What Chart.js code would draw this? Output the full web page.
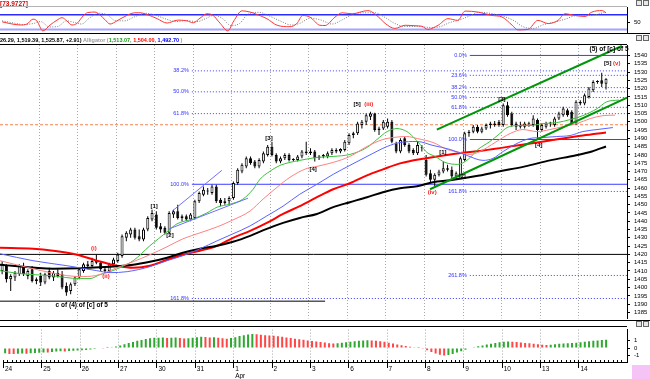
<!DOCTYPE html>
<html><head><meta charset="utf-8">
<script src="https://cdn.jsdelivr.net/npm/chart.js@4/dist/chart.umd.min.js"></script>
<style>
html,body{margin:0;padding:0;background:#fff;width:650px;height:379px;overflow:hidden;}
body{position:relative;}
canvas{position:absolute;left:0;}
.ln{position:absolute;left:0;height:1px;}
.ic{position:absolute;width:4px;height:4px;border:1px solid #666;background:#e8e8e8;}
</style></head><body>
<canvas id="cTop" width="650" height="41" style="top:0px"></canvas>
<canvas id="cMain" width="650" height="292" style="top:34px"></canvas>
<canvas id="cBot" width="650" height="57" style="top:322px"></canvas>
<div class="ln" style="top:6px;width:627px;background:#b4b4b4"></div>
<div class="ln" style="top:33px;width:650px;background:#000"></div>
<div class="ln" style="top:44px;width:627px;background:#000"></div>
<div class="ln" style="top:320px;width:650px;background:#000"></div>
<div class="ln" style="top:326px;width:627px;background:#000"></div>
<div class="ic" style="left:636px;top:0px"></div><div class="ic" style="left:643px;top:0px"></div>
<div class="ic" style="left:636px;top:35px"></div><div class="ic" style="left:643px;top:35px"></div>
<div class="ic" style="left:636px;top:321px"></div><div class="ic" style="left:643px;top:321px"></div>
<div style="position:absolute;left:632px;top:365px;width:18px;height:14px;background:#f5c3f5"></div>
<script>
// ---------------- DATA ----------------
const dayLabels = ["24","25","26","27","30","31","1","2","3","6","7","8","9","10","13","14"];
const monthLabel = "Apr";              // shown under the "1"
const barsPerDay = 9;

const opens = [
1410,1413,1405,1406,1408,1413,1407,1411,1404,
1407,1403,1410,1406,1409,1408,1401,1398,1402,
1406,1410,1414,1413,1416,1415,1411,1410,1414,
1416,1419,1430,1432,1435,1431,1429,1435,1441,
1444,1437,1436,1433,1444,1446,1442,1443,1441,
1442,1452,1456,1458,1457,1461,1453,1451,1452,
1454,1463,1470,1473,1478,1476,1473,1476,1480,
1485,1480,1476,1478,1480,1477,1477,1479,1482,
1481,1482,1478,1479,1479,1481,1483,1482,1483,
1487,1492,1493,1498,1500,1503,1505,1495,1496,
1497,1500,1487,1482,1490,1486,1483,1481,1484,
1477,1469,1465,1468,1470,1472,1471,1467,1468,
1477,1493,1494,1497,1494,1496,1498,1499,1500,
1498,1510,1505,1499,1498,1497,1499,1498,1501,
1495,1497,1499,1498,1502,1504,1507,1506,1499,
1512,1511,1515,1519,1524,1525,1522.96];
const highs = [
1416,1414,1408,1410,1414,1415,1411,1413,1406,
1409,1409,1412,1410,1411,1410,1403,1403,1407,
1412,1415,1416,1418,1420,1416,1413,1415,1418,
1421,1432,1434,1436,1436,1435,1436,1443,1447,
1446,1439,1437,1446,1447,1450,1444,1444,1445,
1453,1458,1461,1460,1462,1462,1454,1454,1455,
1464,1472,1475,1479,1479,1477,1478,1482,1486,
1488,1481,1479,1481,1481,1478,1480,1483,1488,
1484,1483,1480,1480.5,1482,1484,1484,1484,1489,
1493,1494,1500,1501,1505,1506,1505.5,1497,1501,
1502,1501,1488,1490,1491,1487,1484,1488,1486,
1480,1471,1469,1471,1476,1474,1473,1470,1479,
1494,1495,1498,1498,1497,1499,1500,1500.5,1501,
1511,1512,1506,1500,1500,1500,1500,1504,1502,
1499,1500,1500,1503,1506,1509,1508,1507,1513,
1513,1517,1521,1525,1525,1529.5,1526.29];
const lows = [
1408,1403,1398,1404,1407,1407,1405,1403,1402,
1401,1402,1405,1404,1406,1399,1395,1396,1401,
1405,1409,1411,1412,1414,1410,1409,1409,1413,
1415,1418,1428,1430,1429,1428,1428,1434,1440,
1435,1433,1432,1432,1442,1441,1440,1440,1440,
1441,1451,1455,1456,1456,1451,1449,1450,1450,
1453,1462,1469,1472,1474,1472,1472,1475,1479,
1479,1475,1475,1477,1476,1476,1476,1478,1480,
1480,1476,1477,1478,1478,1480,1481,1481,1482,
1486,1490,1492,1496,1498,1501,1494,1492,1495,
1496,1487,1481,1481,1485,1481,1480,1480,1482,
1467,1463,1461,1467,1469,1470,1466,1465,1467,
1476,1491,1493,1493,1493,1495,1496,1497,1497,
1497,1503,1497,1495,1496,1496,1497,1497,1489,
1494,1496,1497,1497,1501,1503,1503,1498,1498,
1510,1510,1514,1518,1523,1521,1519.39];
const closes = [
1414,1405,1407,1409,1413,1408,1410,1404,1405,
1403,1408,1406,1409,1407,1400,1397,1402,1406,
1411,1414,1413,1416,1415,1411,1410,1414,1417,
1420,1431,1433,1435,1430,1429,1435,1442,1445,
1436,1435,1433,1445,1446,1442,1443,1441,1444,
1452,1457,1459,1458,1461,1452,1451,1452,1454,
1463,1471,1474,1478,1475,1473,1477,1481,1485,
1480,1476,1478,1480,1477,1477.5,1479,1482,1481,
1482,1478,1479,1480,1481,1483,1482,1483.5,1488,
1492,1493,1499,1500,1504,1505,1495,1496,1500,
1500,1488,1482,1489,1486,1482,1481,1486,1484.5,
1468,1465,1468,1470,1472,1471,1467,1469,1478,
1493,1494,1497,1494,1496,1498,1499,1498,1498,
1510,1504,1498,1497,1497,1499,1498.5,1502,1495,
1498,1499,1499.5,1502,1505,1508,1504,1499,1512,
1511,1516,1520,1524,1524.5,1522.96,1525.87];

// moving averages: [bar index, value]
const blackMA = [[-0.5,1413.8],[11.9,1411.4],[25.2,1412.6],[30.6,1413.8],[34.5,1415.6],[38.5,1418.0],[42.2,1421.0],[46.2,1423.4],[50.2,1425.2],[53.9,1427.6],[57.9,1431.2],[61.8,1435.4],[65.6,1439.0],[69.5,1442.0],[73.5,1444.4],[77.3,1448.5],[81.2,1451.5],[85.2,1454.5],[88.9,1457.5],[92.9,1459.9],[96.9,1461.1],[100.6,1463.5],[104.6,1464.7],[110.4,1467.1],[116.2,1470.1],[122.1,1473.1],[127.9,1476.7],[133.8,1479.7],[137.7,1482.1],[141,1485.1]];
const redMA = [[-0.5,1424.0],[7.2,1423.4],[11.9,1422.2],[17.5,1419.8],[22.1,1416.2],[26.8,1413.2],[30.6,1412.0],[34.5,1413.2],[38.5,1416.8],[42.2,1419.8],[46.2,1422.2],[50.2,1425.2],[53.9,1430.0],[57.9,1434.2],[61.8,1439.0],[65.6,1444.4],[69.5,1449.1],[73.5,1454.5],[77.3,1459.3],[81.2,1462.9],[85.2,1467.7],[88.9,1471.3],[92.9,1474.9],[98.7,1477.9],[104.6,1480.3],[112.3,1482.7],[120.2,1485.7],[127.9,1488.7],[135.6,1491.7],[141,1493.5]];
const lipsLine = [[-0.5,1410.2],[4.2,1408.4],[11.2,1407.2],[18.2,1405.4],[20.5,1405.4],[22.8,1407.8],[25.2,1409.6],[27.5,1412.0],[30.6,1416.2],[34.5,1425.2],[38.5,1433.6],[40.8,1438.4],[44.6,1441.4],[47.8,1445.0],[50.2,1448.5],[53.2,1450.3],[56.2,1453.3],[58.6,1459.3],[60.2,1465.3],[62.5,1470.1],[64.9,1473.7],[67.2,1475.5],[69.5,1476.7],[73.5,1478.5],[77.3,1479.1],[81.2,1480.3],[85.2,1484.5],[87.5,1489.3],[89.9,1494.1],[92.2,1495.9],[94.5,1494.1],[95.9,1491.1],[97.6,1486.3],[99.2,1481.5],[101.1,1479.1],[103.4,1475.5],[106.4,1474.3],[108.8,1477.3],[111.1,1483.3],[113.9,1488.1],[116.2,1492.9],[117.9,1496.5],[120.2,1497.7],[123.2,1497.7],[126.3,1498.9],[129.5,1499.5],[132.6,1501.3],[135.6,1503.7],[138.9,1507.9],[141.2,1512.1],[144,1513.1]];
const teethLine = [[-0.5,1416.2],[7.2,1411.4],[15.1,1407.2],[18.9,1406.6],[22.8,1407.8],[26.8,1412.0],[30.6,1415.6],[34.5,1419.8],[38.5,1424.6],[42.2,1429.4],[46.2,1433.0],[50.2,1436.6],[53.9,1440.8],[57.9,1446.2],[60.9,1453.3],[64.2,1460.5],[67.2,1466.5],[71.2,1471.9],[73.5,1473.1],[77.3,1475.5],[81.2,1479.1],[85.2,1485.1],[88.9,1489.3],[91.3,1490.5],[94.5,1491.1],[96.9,1489.9],[100.6,1487.5],[103.9,1483.3],[106.9,1481.5],[109.2,1480.3],[111.6,1482.1],[115.1,1487.5],[118.6,1492.9],[121.6,1495.3],[124.9,1494.1],[127.9,1495.3],[131,1497.1],[134.2,1498.9],[137.3,1501.9],[140.3,1503.7],[143.1,1504.0]];
const jawLine = [[-0.5,1420.4],[7.2,1416.2],[15.1,1413.2],[22.1,1410.2],[25.2,1409.0],[29.2,1409.6],[34.5,1412.6],[38.5,1416.2],[42.2,1419.2],[46.2,1423.4],[50.2,1428.2],[53.9,1432.4],[57.9,1437.2],[61.8,1443.2],[65.6,1449.1],[69.5,1456.3],[73.5,1462.3],[77.3,1468.3],[81.2,1473.7],[85.2,1479.1],[89.9,1485.1],[92.9,1487.5],[96.9,1488.1],[100.6,1485.7],[104.6,1483.3],[108.5,1479.7],[112.3,1476.7],[114.6,1477.9],[117,1482.1],[120.2,1486.9],[123.2,1489.9],[126.3,1490.5],[129.5,1491.1],[132.6,1491.7],[135.6,1494.1],[138.9,1495.3],[142.6,1496.5]];

// trend lines [bar, value] end points
const blueChanUpper = [[39.7,1446.1],[51.3,1470.7]];
const blueChanLower = [[39.0,1435.4],[57.4,1453.9]];
const greenChanUpper = [[101.5,1495.3],[144.7,1545.7]];
const greenChanLower = [[99.9,1459.3],[145.9,1514.5]];

// horizontal levels
const supportLevel = 1420;
const lowLevel = 1391.8, lowLevelEndBar = 75.4;
const orangeLevel = 1498.2;
const fibLeftPct = [38.2, 50.0, 61.8, 100.0, 161.8];
const fibLeftVal = [1530.7, 1518.05, 1504.9, 1462.3, 1393.4];
const fibLeftStartBar = 44.3;
const fibRightPct = [0.0, 23.6, 38.2, 50.0, 61.8, 100.0, 161.8, 261.8];
const fibRightVal = [1540.0, 1528.0, 1520.6, 1514.65, 1508.7, 1489.3, 1457.97, 1407.3];
const fibRightStartBar = 109.2;

// stochastic (top pane): [bar, value]
const stochK = [[0,51],[1.8,44],[4.2,38],[5.8,42],[7.2,62],[8.1,55],[9.5,14],[11.2,38],[12.8,58],[14,68],[15.1,55],[16.3,38],[17.5,45],[18.9,75],[20,89],[21.7,91],[22.8,80],[24,60],[25.2,42],[26.8,55],[29.2,78],[31,88],[32.2,88],[34,80],[36.2,64],[38.5,46],[41,58],[43.2,55],[44.6,47],[46.2,66],[47.8,84],[49.2,78],[50.9,45],[52.7,14],[54.1,55],[56,96],[57.9,91],[59.7,80],[61.8,64],[64.2,37],[67.2,31],[68.8,44],[70.2,77],[71.9,70],[74.2,37],[75.4,36],[77.7,70],[79.4,88],[81.7,84],[85.4,97],[87.8,72],[89.4,45],[91.7,24],[94.1,37],[96.4,35],[98,33],[99.4,20],[101.8,37],[104.1,64],[106.4,57],[108.1,95],[111.1,91],[114.4,77],[116.7,71],[119.1,37],[120.4,18],[122.8,20],[125.1,57],[127.5,44],[129.8,57],[131.4,84],[133.8,77],[136.1,73],[137.7,91],[140.1,97],[141,88]];
const stochD = [[0,55],[2.5,47],[5,40],[7.5,45],[9,52],[11,30],[13,32],[15,55],[17,48],[18.5,42],[20.5,68],[22.5,86],[24.5,80],[26.5,56],[28.5,55],[31,72],[33.5,86],[35.5,80],[38,64],[40.5,52],[43,56],[45.5,52],[47.5,64],[49.5,78],[51.5,64],[53.5,35],[55.5,45],[57.5,84],[60,90],[62.5,74],[65,54],[67.5,38],[69.5,45],[72,66],[74.5,58],[77,42],[79.5,60],[82,82],[84.5,88],[87,88],[89.5,68],[91.5,46],[94,32],[97,32],[100,28],[102,30],[104.5,48],[107,60],[109,74],[111.5,90],[114.5,84],[117,74],[119.5,56],[121.5,32],[124,24],[126.5,40],[129,50],[131.5,62],[134,76],[136.5,76],[138.5,80],[141,92]];
const stochUpper = 80, stochLower = 20;

// oscillator histogram (bottom pane), one value per bar
const oscValues = [
-0.70,-0.78,-0.80,-0.76,-0.72,-0.75,-0.70,-0.66,-0.62,
-0.58,-0.60,-0.52,-0.46,-0.44,-0.47,-0.40,-0.36,-0.33,
-0.30,-0.24,-0.18,-0.12,-0.06,-0.08,0.02,0.10,0.22,
0.36,0.52,0.68,0.84,0.98,1.10,1.22,1.32,1.40,
1.40,1.42,1.36,1.40,1.45,1.38,1.30,1.34,1.40,
1.46,1.52,1.50,1.44,1.47,1.40,1.32,1.28,1.35,
1.48,1.62,1.74,1.85,1.90,1.86,1.80,1.74,1.70,
1.66,1.60,1.52,1.45,1.36,1.28,1.20,1.12,1.04,
0.96,0.90,0.84,0.76,0.66,0.62,0.66,0.72,0.80,
0.86,0.92,0.98,1.02,1.05,1.02,0.98,0.92,0.86,
0.74,0.62,0.50,0.40,0.30,0.20,0.10,0.02,-0.10,
-0.30,-0.52,-0.72,-0.88,-1.00,-0.94,-0.78,-0.60,-0.42,
-0.22,-0.06,0.10,0.24,0.36,0.48,0.58,0.70,0.80,
0.86,0.90,0.87,0.82,0.76,0.70,0.66,0.60,0.52,
0.46,0.42,0.46,0.52,0.58,0.62,0.66,0.68,0.74,
0.80,0.86,0.92,0.98,1.04,1.08,1.12];

// tick labels
const mainTicks = []; for (let v = 1385; v <= 1540; v += 5) mainTicks.push(v);
const stochTicks = [50];
const oscTicks = [1, 0, -1];

// texts
const stochTitle = "[73.9727]";
const headerParts = [["26.29, 1,519.39, 1,525.87, +2.91)", "#000"], [" Alligator (", "#9a9a9a"], ["1,513.07, ", "#1c9a1c"], ["1,504.00, ", "#ff0000"], ["1,492.70", "#0000ff"], [" )", "#9a9a9a"]];
const RED = "#ff1a1a", BLK = "#000";
const waveLabels = [
 {t:"(i)", i:21.4, v:1423.4, c:RED}, {t:"(ii)", i:24.25, v:1406.6, c:RED},
 {t:"c of (4) of [c] of 5", i:18.6, v:1389.2, c:BLK},
 {t:"[1]", i:35.5, v:1449.1, c:BLK}, {t:"[2]", i:39.2, v:1431.2, c:BLK},
 {t:"[3]", i:62.3, v:1489.9, c:BLK}, {t:"[4]", i:72.6, v:1471.3, c:BLK},
 {t:"[5]", i:82.9, v:1510.3, c:BLK}, {t:"(iii)", i:85.6, v:1510.3, c:RED},
 {t:"[1]", i:102.9, v:1481.5, c:BLK}, {t:"(iv)", i:100.4, v:1457.5, c:RED},
 {t:"[2]", i:107.4, v:1467.1, c:BLK}, {t:"[3]", i:116.7, v:1513.3, c:BLK},
 {t:"[4]", i:125.3, v:1485.7, c:BLK},
 {t:"(5) of [c] of 5", i:141.7, v:1543.6, c:BLK},
 {t:"[5]", i:141.4, v:1535.5, c:BLK}, {t:"(v)", i:143.5, v:1535.5, c:RED}
];

// ---------------- CHARTS ----------------
const FONT = '"Liberation Sans", Arial, sans-serif';
Chart.defaults.font.family = FONT;
Chart.defaults.font.size = 6;
Chart.defaults.color = '#000';
const XMIN = -0.5, XMAX = 145.9;
const dayStarts = dayLabels.map((d, k) => k * barsPerDay - 0.5);

function hiddenX() { return {type:'linear', min:XMIN, max:XMAX, display:false, offset:false}; }
function rightAxis(min, max, vals) {
  return {
    type:'linear', position:'right', min, max,
    afterBuildTicks: s => { s.ticks = vals.map(v => ({value:v})); },
    afterFit: s => { s.width = 23; },
    grid: {drawOnChartArea:false, drawTicks:true, tickLength:3, color:'#000', tickColor:'#000'},
    border: {display:true, color:'#000', width:1},
    ticks: {padding:4, autoSkip:false, color:'#000', font:{size:6}, callback: v => String(v)}
  };
}
const pts = arr => arr.map(p => ({x:p[0], y:p[1]}));
function lineDS(arr, color, width, order, extra) {
  return Object.assign({type:'line', data:pts(arr), borderColor:color, borderWidth:width, pointRadius:0,
    fill:false, tension:0.4, cubicInterpolationMode:'monotone', order}, extra || {});
}
function straight(arr, color, width, order, dash) {
  return {type:'line', data:pts(arr), borderColor:color, borderWidth:width, pointRadius:0, fill:false,
    tension:0, order, borderDash: dash || []};
}
const dayLinePlugin = {
  id:'dayLines',
  beforeDatasetsDraw(chart) {
    const {ctx, chartArea:a, scales:{x}} = chart;
    ctx.save(); ctx.strokeStyle = '#a8a8a8'; ctx.lineWidth = 1; ctx.setLineDash([1,2]);
    dayStarts.forEach((d, k) => {
      if (k === 0) return;
      const px = Math.round(x.getPixelForValue(d)) + 0.5;
      ctx.beginPath(); ctx.moveTo(px, a.top); ctx.lineTo(px, a.bottom); ctx.stroke();
    });
    ctx.restore();
  }
};
const common = {responsive:false, animation:false, events:[],
  plugins:{legend:{display:false}, tooltip:{enabled:false}}};

// ---- top: stochastic ----
new Chart(document.getElementById('cTop'), {
  type:'line',
  data:{datasets:[
    straight([[XMIN,stochUpper],[XMAX,stochUpper]], '#2b2bff', 1.5, 5),
    straight([[XMIN,stochLower],[XMAX,stochLower]], '#a4a4ff', 2, 5),
    lineDS(stochD, '#7a7a7a', 1, 2, {borderDash:[1,1.5]}),
    lineDS(stochK, '#ff3535', 1, 1)
  ]},
  options: Object.assign({}, common, {
    layout:{padding:{top:7, bottom:8, left:0, right:0}},
    scales:{x:hiddenX(), y:rightAxis(5.3, 109.3, stochTicks)}
  }),
  plugins:[{id:'stTitle', afterDraw(chart){ const c = chart.ctx; c.save(); c.font = 'bold 6.5px ' + FONT;
    c.fillStyle = '#e00000'; c.textAlign = 'left'; c.textBaseline = 'alphabetic'; c.fillText(stochTitle, 0, 5.5); c.restore(); }}]
});

// ---- main: candles ----
const wickData = opens.map((o, i) => ({x:i, y:[lows[i], highs[i]]}));
const bodyData = opens.map((o, i) => ({x:i, y:[Math.min(o, closes[i]), Math.max(o, closes[i])]}));
const bodyColors = opens.map((o, i) => closes[i] >= o ? '#ffffff' : '#000000');

const mainDatasets = [];
fibLeftPct.forEach((p, k) => mainDatasets.push(straight([[fibLeftStartBar, fibLeftVal[k]], [XMAX, fibLeftVal[k]]],
  '#3c3cff', 1, 20, p === 100 ? [] : [1,2])));
fibRightPct.forEach((p, k) => mainDatasets.push(straight([[fibRightStartBar, fibRightVal[k]], [XMAX, fibRightVal[k]]],
  '#3c3cff', 1, 20, (p === 100 || p === 0) ? [] : [1,2])));
mainDatasets.push(straight([[XMIN, orangeLevel], [XMAX, orangeLevel]], '#f5834f', 1, 20, [3,2]));
mainDatasets.push(straight([[XMIN, supportLevel], [XMAX, supportLevel]], '#000', 1, 20));
mainDatasets.push(straight([[XMIN, lowLevel], [lowLevelEndBar, lowLevel]], '#000', 1, 20));
mainDatasets.push({type:'bar', data:wickData, backgroundColor:'#000', maxBarThickness:1, grouped:false, order:9});
mainDatasets.push({type:'bar', data:bodyData, backgroundColor:bodyColors, borderColor:'#000', borderWidth:1,
  borderSkipped:false, maxBarThickness:3, minBarLength:1, grouped:false, order:8});
mainDatasets.push(lineDS(blackMA, '#000', 2, 4));
mainDatasets.push(lineDS(redMA, '#ff0000', 2, 4));
mainDatasets.push(lineDS(jawLine, '#5a62ff', 1, 3));
mainDatasets.push(lineDS(teethLine, '#ff8080', 1, 3));
mainDatasets.push(lineDS(lipsLine, '#3cc03c', 1, 3));
mainDatasets.push(straight(blueChanUpper, '#6f6fff', 1, 2));
mainDatasets.push(straight(blueChanLower, '#6f6fff', 1, 2));
mainDatasets.push(straight(greenChanUpper, '#00960a', 2, 1));
mainDatasets.push(straight(greenChanLower, '#00960a', 2, 1));

const mainText = {
  id:'mainText',
  afterDatasetsDraw(chart) {
    const {ctx, scales:{x, y}} = chart;
    ctx.save(); ctx.textBaseline = 'middle';
    ctx.font = '5.5px ' + FONT; ctx.fillStyle = '#3434ff'; ctx.textAlign = 'right';
    fibLeftPct.forEach((p, k) => ctx.fillText(p.toFixed(1) + '%', x.getPixelForValue(fibLeftStartBar) - 3, y.getPixelForValue(fibLeftVal[k])));
    fibRightPct.forEach((p, k) => ctx.fillText(p.toFixed(1) + '%', x.getPixelForValue(fibRightStartBar) - 3, y.getPixelForValue(fibRightVal[k])));
    ctx.textAlign = 'center';
    waveLabels.forEach(w => {
      ctx.font = 'bold ' + (w.t.length > 5 ? 6.5 : 6) + 'px ' + FONT; ctx.fillStyle = w.c;
      ctx.fillText(w.t, x.getPixelForValue(w.i), y.getPixelForValue(w.v));
    });
    ctx.restore();
  },
  afterDraw(chart) {
    const ctx = chart.ctx; ctx.save(); ctx.font = 'bold 5.5px ' + FONT; ctx.textAlign = 'left'; ctx.textBaseline = 'alphabetic';
    let xx = 0;
    headerParts.forEach(([t, c]) => { ctx.fillStyle = c; ctx.fillText(t, xx, 8); xx += ctx.measureText(t).width; });
    ctx.restore();
  }
};
new Chart(document.getElementById('cMain'), {
  type:'bar',
  data:{datasets:mainDatasets},
  options: Object.assign({}, common, {
    layout:{padding:{top:11, bottom:6, left:0, right:0}},
    scales:{x:hiddenX(), y:rightAxis(1381.4, 1546.3, mainTicks)}
  }),
  plugins:[dayLinePlugin, mainText]
});

// ---- bottom: oscillator ----
const oscColors = oscValues.map((v, i) => (i === 0 || v >= oscValues[i-1]) ? '#2ea82e' : '#ff4545');
const aprIndex = dayLabels.indexOf("1");
const axisTicksPlugin = {
  id:'axisTicks',
  afterDraw(chart) {
    const {ctx, chartArea:a, scales:{x}} = chart;
    ctx.save(); ctx.strokeStyle = '#000'; ctx.lineWidth = 1;
    for (let i = 0; i < opens.length + 4; i++) {
      const px = Math.round(x.getPixelForValue(i - 0.5)) + 0.5;
      if (px > a.right) break;
      ctx.beginPath(); ctx.moveTo(px, a.bottom - 2); ctx.lineTo(px, a.bottom); ctx.stroke();
    }
    dayStarts.forEach(d => { const px = Math.round(x.getPixelForValue(d)) + 0.5;
      ctx.beginPath(); ctx.moveTo(px, a.bottom - 2); ctx.lineTo(px, a.bottom + 6); ctx.stroke(); });
    ctx.restore();
  }
};
new Chart(document.getElementById('cBot'), {
  type:'bar',
  data:{datasets:[{data:oscValues.map((v, i) => ({x:i, y:v})), backgroundColor:oscColors, maxBarThickness:2, grouped:false}]},
  options: Object.assign({}, common, {
    layout:{padding:{top:5, bottom:0, left:0, right:0}},
    scales:{
      x:{type:'linear', min:XMIN, max:XMAX, offset:false, position:'bottom',
        afterBuildTicks: s => { s.ticks = dayStarts.map(v => ({value:v})); },
        afterFit: s => { s.height = 17; },
        grid:{drawOnChartArea:false, drawTicks:false},
        border:{display:true, color:'#000', width:1},
        ticks:{autoSkip:false, maxRotation:0, minRotation:0, padding:3, align:'start', labelOffset:2,
          color:'#000', font:{size:6.5}, callback:(v, i) => i === aprIndex ? [dayLabels[i], monthLabel] : dayLabels[i]}},
      y: rightAxis(-1.875, 2.5, oscTicks)
    }
  }),
  plugins:[dayLinePlugin, axisTicksPlugin]
});
</script>
</body></html>
